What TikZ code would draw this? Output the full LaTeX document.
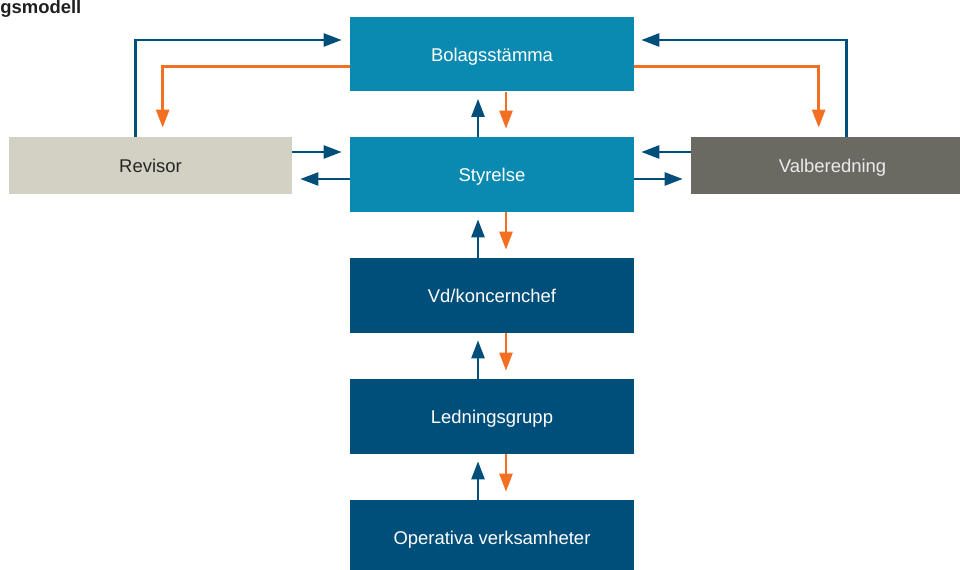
\documentclass[tikz,border=0pt]{standalone}
\usepackage{fontspec}
\setmainfont{Liberation Sans}
\usetikzlibrary{arrows.meta}
\definecolor{lightblu}{HTML}{0A89B1}
\definecolor{darkblu}{HTML}{004F7B}
\definecolor{orng}{HTML}{F36F21}
\definecolor{revbg}{HTML}{D3D1C3}
\definecolor{valbg}{HTML}{6B6A62}

\begin{document}
\begin{tikzpicture}[x=0.02cm,y=-0.02cm,
    box/.style={minimum width=5.68cm,minimum height=1.5cm,inner sep=0pt,
      text height=0.8em,text depth=0pt,
      text=white,font=\fontsize{10.5}{12}\selectfont},
    side/.style={box,minimum width=5.66cm,minimum height=1.14cm},
    blueline/.style={draw=darkblu,line width=1.4pt,
      -{Triangle[length=0.36cm,width=0.26cm]}},
    orangeline/.style={blueline,draw=orng}]
       \useasboundingbox (0,0) rectangle (960,570);
       % boxes
       \node[box,fill=lightblu] (bolag) at (492,54)    {Bolagsstämma};
       \node[box,fill=lightblu] (styr)  at (492,174.5) {Styrelse};
       \node[box,fill=darkblu]  (vd)    at (492,295.5) {Vd/koncernchef};
       \node[box,fill=darkblu]  (led)   at (492,416.5) {Ledningsgrupp};
       \node[box,fill=darkblu]  (oper)  at (492,537.5) {Operativa verksamheter};
       \node[side,fill=revbg,text=black!85] (revisor) at (150.5,165.5) {Revisor};
       \node[side,fill=valbg,text=white!92!black] (valb) at (832.5,165.5) {Valberedning};
       \node[anchor=base west,inner sep=0pt,text=black!88,
         font=\fontsize{10.5}{12}\selectfont\bfseries] (titel) at (0,14) {gsmodell};
       % left side
       \draw[blueline,shorten >=0.16cm] ([xshift=2.54cm]revisor.north west) |- ([yshift=0.28cm]bolag.west);
       \draw[orangeline,shorten >=0.18cm] ([yshift=-0.25cm]bolag.west) -| ([xshift=3.08cm]revisor.north west);
       \draw[blueline,shorten >=0.16cm] ([yshift=0.27cm]revisor.east) -- ([yshift=0.27cm]revisor.east -| styr.west);
       \draw[blueline,shorten >=0.16cm] ([yshift=-0.09cm]styr.west) -- ([yshift=-0.09cm]styr.west -| revisor.east);
       % right side
       \draw[blueline,shorten >=0.14cm] ([xshift=3.12cm]valb.north west) |- ([yshift=0.28cm]bolag.east);
       \draw[orangeline,shorten >=0.18cm] ([yshift=-0.25cm]bolag.east) -| ([xshift=2.56cm]valb.north west);
       \draw[blueline,shorten >=0.14cm] ([yshift=0.27cm]valb.west) -- ([yshift=0.27cm]valb.west -| styr.east);
       \draw[blueline,shorten >=0.16cm] ([yshift=-0.09cm]styr.east) -- ([yshift=-0.09cm]styr.east -| valb.west);
       % middle column
       \foreach \a/\b in {bolag/styr,styr/vd,vd/led,led/oper}{
         \draw[blueline,shorten >=0.14cm] ([xshift=-0.28cm]\b.north) -- ([xshift=-0.28cm]\a.south);
         \draw[orangeline,shorten >=0.16cm] ([xshift=0.28cm]\a.south) -- ([xshift=0.28cm]\b.north);
       }
      \end{tikzpicture}
\end{document}
